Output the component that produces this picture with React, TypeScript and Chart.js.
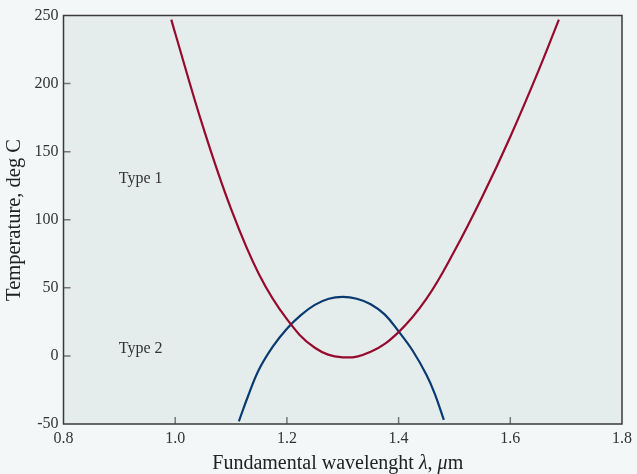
import React, { useEffect, useRef } from "react";
import { Chart, registerables } from "chart.js";

Chart.register(...registerables);

// Type 1 (red) curve: wavelength (µm) vs temperature (deg C)
const type1X = [0.993, 1.0, 1.05, 1.1, 1.15, 1.2, 1.25, 1.3, 1.35, 1.4, 1.45, 1.5, 1.55, 1.6, 1.65, 1.687];
const type1Y = [247, 237, 168, 108, 60, 27, 6, -1, 3, 17.5, 42, 77, 117, 161, 209, 247];

// Type 2 (blue) curve
const type2X = [1.114, 1.13, 1.15, 1.175, 1.2, 1.225, 1.25, 1.275, 1.3, 1.325, 1.35, 1.375, 1.4, 1.425, 1.45, 1.465, 1.481];
const type2Y = [-48, -30, -10, 7, 20, 30, 37.5, 42, 43.3, 42, 38, 30.5, 18, 4, -14, -28, -47];

const xTicks = [0.8, 1.0, 1.2, 1.4, 1.6, 1.8];
const yTicks = [-50, 0, 50, 100, 150, 200, 250];

const labels = [
  { text: "Type 1", x: 0.899, y: 130 },
  { text: "Type 2", x: 0.899, y: 5 },
];

const SERIF = '"Liberation Serif", "DejaVu Serif", serif';

const framePlugin = {
  id: "frame",
  beforeDraw(chart: any) {
    const { ctx, chartArea } = chart;
    const { left, right, top, bottom } = chartArea;
    ctx.save();
    ctx.fillStyle = "#e5ecec";
    ctx.fillRect(left, top, right - left, bottom - top);
    ctx.restore();
  },
  afterDraw(chart: any) {
    const { ctx, chartArea, scales } = chart;
    const { left, right, top, bottom } = chartArea;
    const xs = scales.x;
    const ys = scales.y;
    ctx.save();
    // inward ticks
    ctx.strokeStyle = "#777";
    ctx.lineWidth = 1.5;
    ctx.beginPath();
    xTicks.slice(1, -1).forEach((v) => {
      const px = xs.getPixelForValue(v);
      ctx.moveTo(px, bottom);
      ctx.lineTo(px, bottom - 7);
    });
    yTicks.slice(1, -1).forEach((v) => {
      const py = ys.getPixelForValue(v);
      ctx.moveTo(left, py);
      ctx.lineTo(left + 7, py);
    });
    ctx.stroke();
    // frame
    ctx.strokeStyle = "#3a3a3a";
    ctx.lineWidth = 1.5;
    ctx.strokeRect(left, top, right - left, bottom - top);

    // curve labels
    ctx.fillStyle = "#333";
    ctx.font = `16px ${SERIF}`;
    ctx.textAlign = "left";
    ctx.textBaseline = "middle";
    labels.forEach((l) => {
      ctx.fillText(l.text, xs.getPixelForValue(l.x), ys.getPixelForValue(l.y));
    });

    // x title with italic symbols
    const parts = [
      { t: "Fundamental wavelenght ", italic: false },
      { t: "λ", italic: true },
      { t: ", ", italic: false },
      { t: "μ", italic: true },
      { t: "m", italic: false },
    ];
    const size = 20;
    let total = 0;
    parts.forEach((p) => {
      ctx.font = `${p.italic ? "italic " : ""}${size}px ${SERIF}`;
      total += ctx.measureText(p.t).width;
    });
    let cx = (left + right) / 2 - total / 2 - 5;
    ctx.textBaseline = "alphabetic";
    ctx.fillStyle = "#222";
    parts.forEach((p) => {
      ctx.font = `${p.italic ? "italic " : ""}${size}px ${SERIF}`;
      ctx.fillText(p.t, cx, 469);
      cx += ctx.measureText(p.t).width;
    });

    // y title
    ctx.translate(15, 220);
    ctx.rotate(-Math.PI / 2);
    ctx.font = `20.5px ${SERIF}`;
    ctx.textAlign = "center";
    ctx.textBaseline = "middle";
    ctx.fillText("Temperature, deg C", 0, 0);
    ctx.restore();
  },
};

export default function App() {
  const canvasRef = useRef<HTMLCanvasElement | null>(null);

  useEffect(() => {
    const canvas = canvasRef.current;
    if (!canvas) return;
    const chart = new Chart(canvas, {
      type: "scatter",
      data: {
        datasets: [
          {
            label: "Type 1",
            data: type1X.map((x, i) => ({ x, y: type1Y[i] })),
            showLine: true,
            borderColor: "#960a2e",
            borderWidth: 2.2,
            pointRadius: 0,
            tension: 0.4,
          },
          {
            label: "Type 2",
            data: type2X.map((x, i) => ({ x, y: type2Y[i] })),
            showLine: true,
            borderColor: "#0a3a72",
            borderWidth: 2.2,
            pointRadius: 0,
            tension: 0.4,
          },
        ],
      },
      options: {
        animation: false,
        responsive: false,
        maintainAspectRatio: false,
        layout: { padding: { left: 0, top: 15.5, right: 13, bottom: 0 } },
        plugins: {
          legend: { display: false },
          tooltip: { enabled: false },
        },
        scales: {
          x: {
            type: "linear",
            min: 0.8,
            max: 1.8,
            afterBuildTicks: (s: any) => {
              s.ticks = xTicks.map((v) => ({ value: v }));
            },
            afterFit: (s: any) => {
              s.height = 50;
            },
            grid: { display: false, drawTicks: false },
            border: { display: false },
            ticks: {
              padding: 5,
              color: "#333",
              font: { family: SERIF, size: 16 },
              callback: (v: any) => Number(v).toFixed(1),
            },
          },
          y: {
            type: "linear",
            min: -50,
            max: 250,
            afterBuildTicks: (s: any) => {
              s.ticks = yTicks.map((v) => ({ value: v }));
            },
            afterFit: (s: any) => {
              s.width = 63.5;
            },
            grid: { display: false, drawTicks: false },
            border: { display: false },
            ticks: {
              padding: 5,
              color: "#333",
              font: { family: SERIF, size: 16 },
              callback: (v: any) => String(v),
            },
          },
        },
      },
      plugins: [framePlugin],
    } as any);
    return () => chart.destroy();
  }, []);

  return (
    <div
      style={{
        position: "fixed",
        left: 0,
        top: 0,
        width: 637,
        height: 474,
        background: "#f4f7f7",
      }}
    >
      <canvas ref={canvasRef} width={637} height={474} style={{ display: "block" }} />
    </div>
  );
}
